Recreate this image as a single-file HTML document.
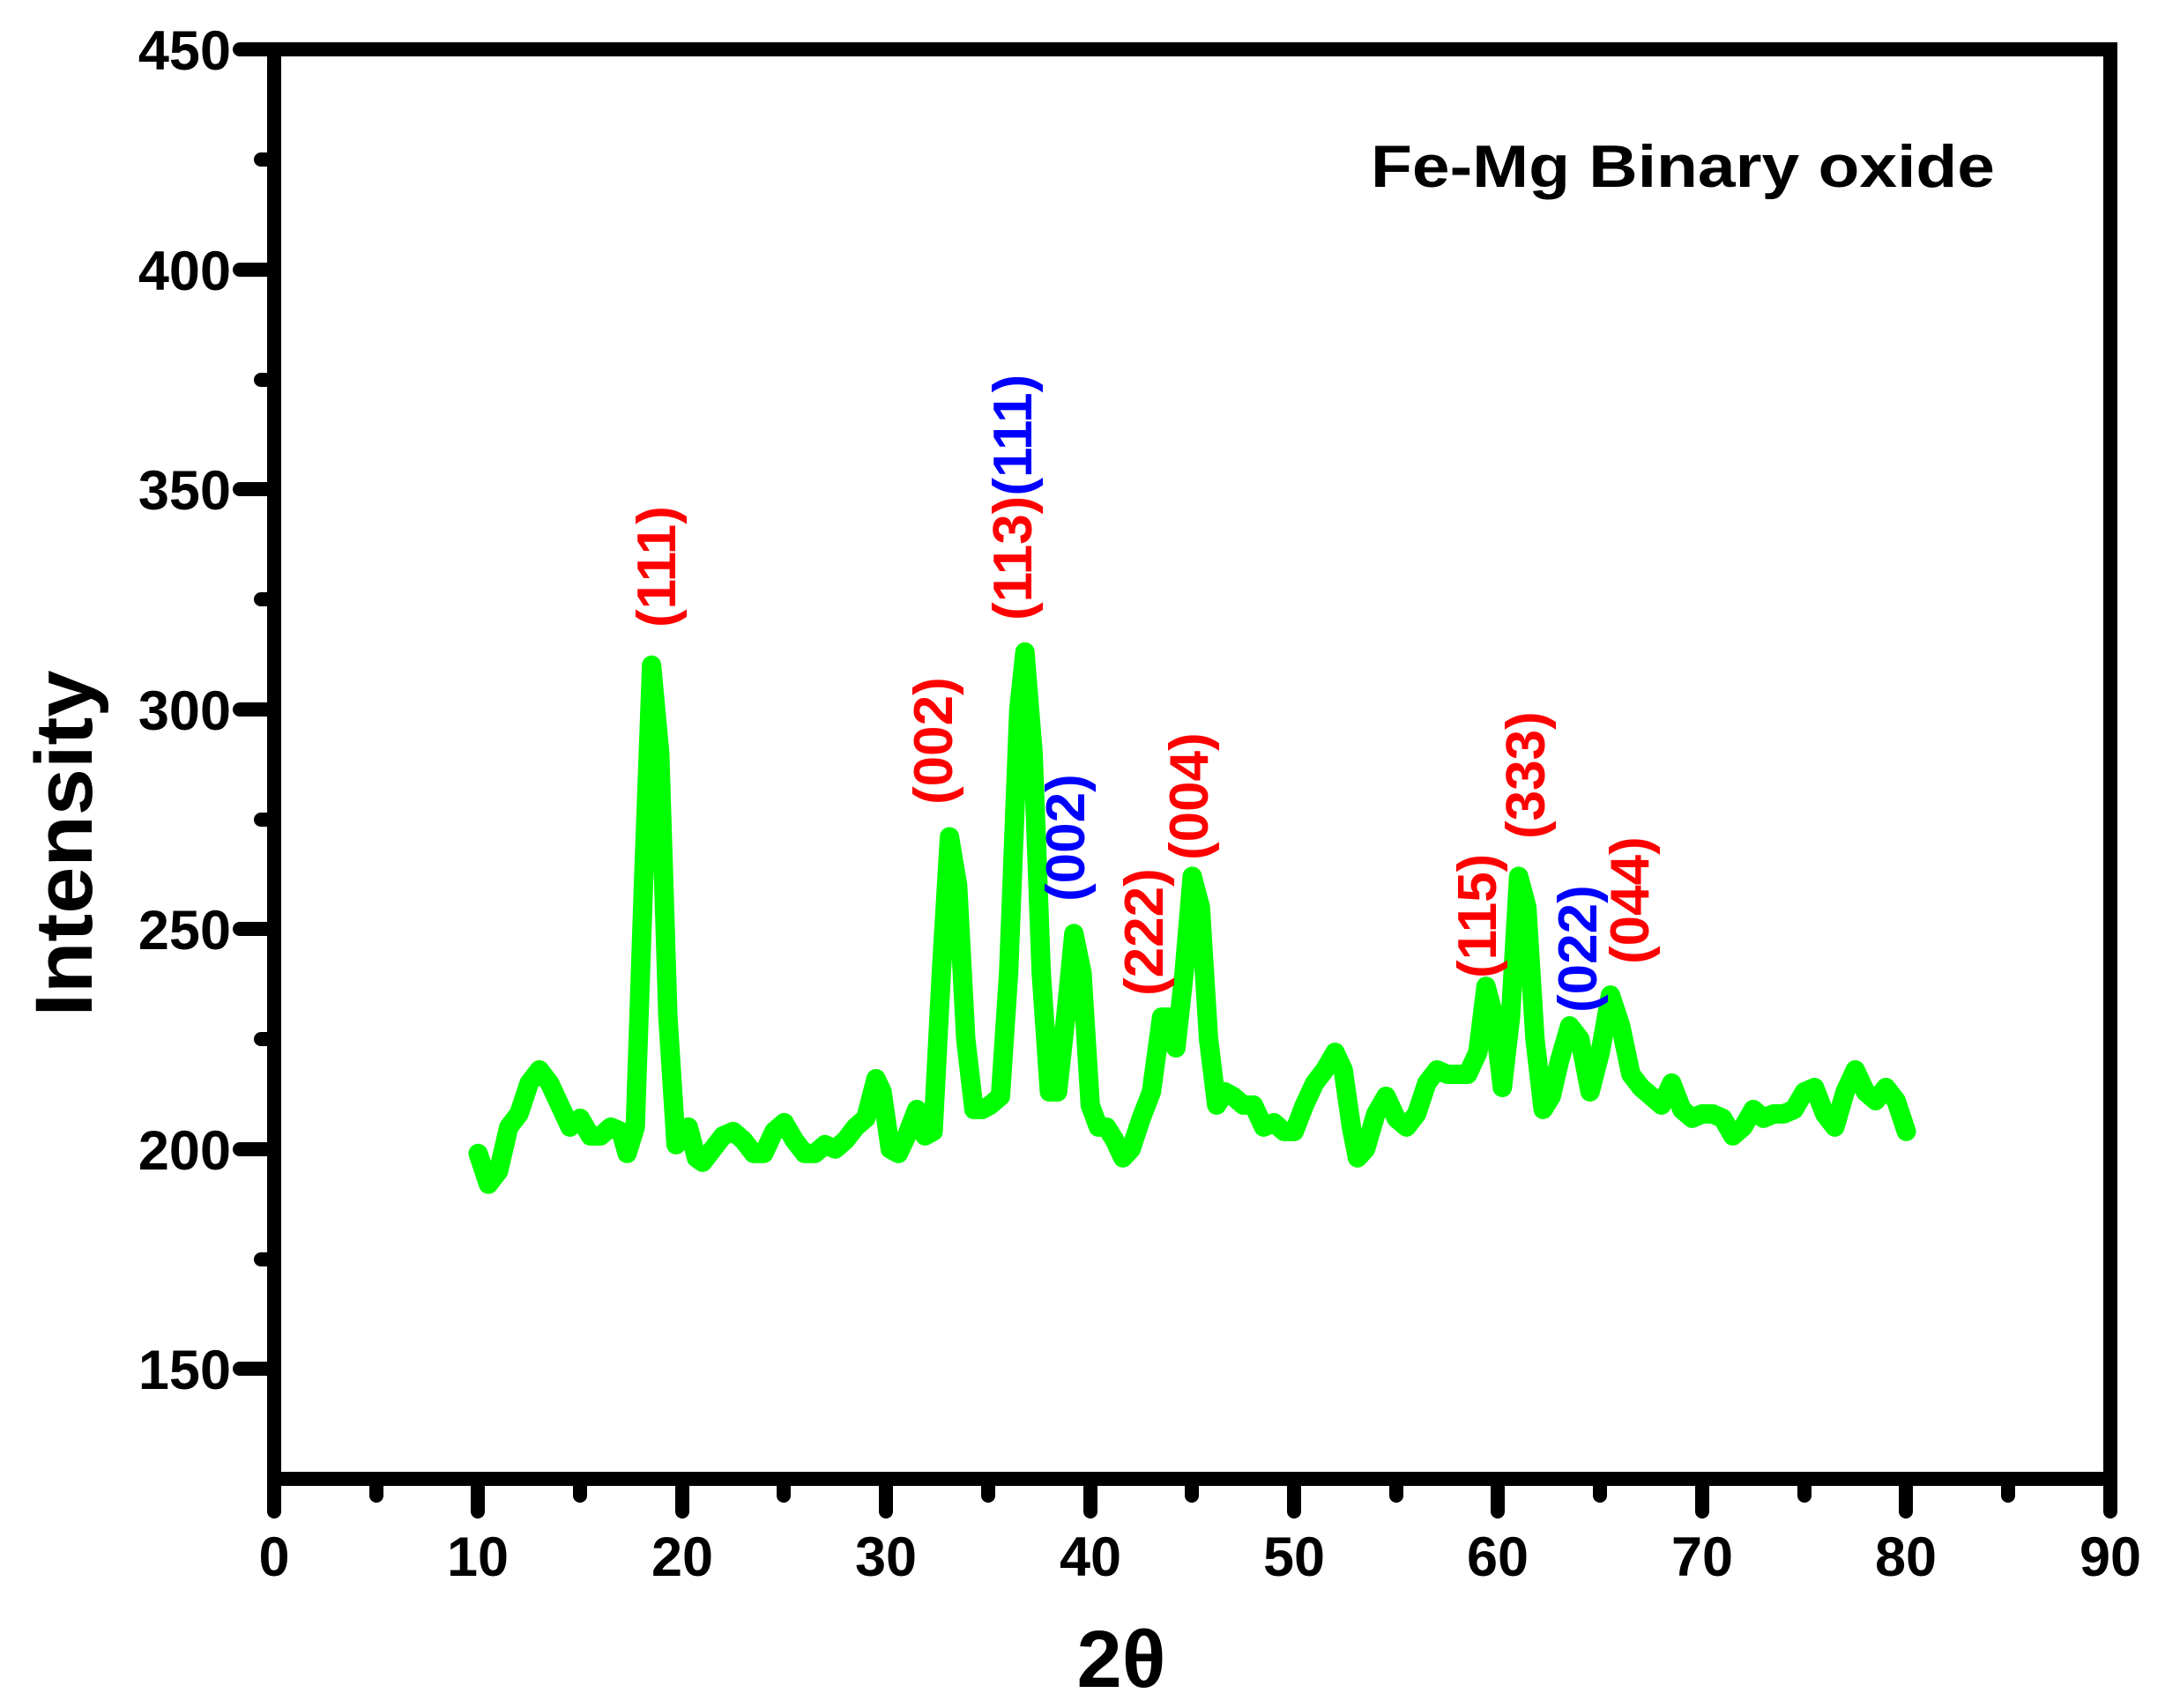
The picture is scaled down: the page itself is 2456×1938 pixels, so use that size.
<!DOCTYPE html>
<html><head><style>
html,body{margin:0;padding:0;background:#fff;}
svg{display:block;font-family:"Liberation Sans",Arial,sans-serif;font-weight:bold;}
</style></head><body>
<svg width="2456" height="1938" viewBox="0 0 2456 1938" xmlns="http://www.w3.org/2000/svg">
<rect width="2456" height="1938" fill="#fff"/>
<g transform="matrix(23.144,0,0,-4.991,311,2302)">
<polyline fill="none" stroke="#00ff00" stroke-width="22" stroke-linejoin="round" stroke-linecap="round" vector-effect="non-scaling-stroke" points="
10,199 10.5,192 11,195 11.5,205 12,208 12.5,215 13,218 13.5,215 14,210 14.5,205 15,207 15.5,203 16,203 16.5,205 17,204 17.3,199 17.7,205 18.1,260 18.5,310 18.9,290 19.3,230 19.7,201 20,203 20.3,205 20.7,198 21,197 21.5,200 22,203 22.5,204 23,202 23.5,199 24,199 24.5,204 25,206 25.5,202 26,199 26.5,199 27,201 27.5,200 28,202 28.5,205 29,207 29.5,216 29.8,213 30.2,200 30.6,199 31,203 31.5,209 31.9,203 32.3,204 32.7,240 33.1,271 33.5,260 33.9,225 34.3,209 34.7,209 35.1,210 35.6,212 36,240 36.5,300 36.8,313 37.2,290 37.6,240 38,213 38.4,213 38.8,230 39.2,249 39.6,240 40,210 40.4,205 40.8,205 41.2,202 41.6,198 42,200 42.5,207 43,213 43.5,230 43.9,230 44.2,223 44.6,240 45,262 45.4,255 45.8,225 46.2,210 46.6,213 47,212 47.5,210 48,210 48.5,205 49,206 49.5,204 50,204 50.5,210 51,215 51.5,218 52,222 52.4,218 52.8,205 53.1,198 53.5,200 54,208 54.5,212 55,207 55.5,205 56,208 56.5,215 57,218 57.5,217 58,217 58.5,217 59,222 59.4,237 59.8,230 60.2,214 60.6,230 61,262 61.4,255 61.8,225 62.2,209 62.6,212 63,220 63.5,228 64,225 64.5,213 65,222 65.5,235 66,228 66.5,217 67,214 67.5,212 68,210 68.5,215 69,209 69.5,207 70,208 70.5,208 71,207 71.5,203 72,205 72.5,209 73,207 73.5,208 74,208 74.5,209 75,213 75.5,214 76,208 76.5,205 77,213 77.5,218 78,213 78.5,211 79,214 79.5,211 80,204"/>
</g>
<g stroke="#000" stroke-width="16" stroke-linecap="round" fill="none">
<rect x="311" y="56" width="2083" height="1622" stroke-linecap="butt"/>
<path d="M311 56H272M311 306H272M311 555H272M311 805H272M311 1054H272M311 1304H272M311 1553H272"/>
<path d="M311 181H296M311 431H296M311 680H296M311 930H296M311 1179H296M311 1429H296"/>
<path d="M311 1678V1715M542 1678V1715M774 1678V1715M1005 1678V1715M1237 1678V1715M1468 1678V1715M1699 1678V1715M1931 1678V1715M2162 1678V1715M2394 1678V1715"/>
<path d="M427 1678V1697M658 1678V1697M889 1678V1697M1121 1678V1697M1352 1678V1697M1584 1678V1697M1815 1678V1697M2047 1678V1697M2278 1678V1697"/>
</g>
<g font-size="63" text-anchor="end" fill="#000">
<text x="262" y="79">450</text><text x="262" y="329">400</text><text x="262" y="578">350</text><text x="262" y="828">300</text><text x="262" y="1077">250</text><text x="262" y="1327">200</text><text x="262" y="1576">150</text>
</g>
<g font-size="63" text-anchor="middle" fill="#000">
<text x="311" y="1788">0</text><text x="542" y="1788">10</text><text x="774" y="1788">20</text><text x="1005" y="1788">30</text><text x="1237" y="1788">40</text><text x="1468" y="1788">50</text><text x="1699" y="1788">60</text><text x="1931" y="1788">70</text><text x="2162" y="1788">80</text><text x="2394" y="1788">90</text>
</g>
<text x="1272" y="1914" font-size="92" text-anchor="middle">2θ</text>
<text transform="translate(104,957) rotate(-90)" font-size="92" text-anchor="middle" textLength="393" lengthAdjust="spacingAndGlyphs">Intensity</text>
<text x="1555" y="212" font-size="68" textLength="708" lengthAdjust="spacingAndGlyphs">Fe-Mg Binary oxide</text>
<g font-size="62" fill="#ff0000">
<text transform="translate(766,712) rotate(-90)">(111)</text>
<text transform="translate(1080,913) rotate(-90)">(002)</text>
<text transform="translate(1170,704) rotate(-90)">(113)<tspan fill="#0000ff">(111)</tspan></text>
<text transform="translate(1230,1023) rotate(-90)" fill="#0000ff">(002)</text>
<text transform="translate(1319,1130) rotate(-90)">(222)</text>
<text transform="translate(1370,976) rotate(-90)">(004)</text>
<text transform="translate(1697,1110) rotate(-90)">(115)</text>
<text transform="translate(1752,952) rotate(-90)">(333)</text>
<text transform="translate(1811,1149) rotate(-90)" fill="#0000ff">(022)</text>
<text transform="translate(1870,1094) rotate(-90)">(044)</text>
</g>
</svg>
</body></html>
